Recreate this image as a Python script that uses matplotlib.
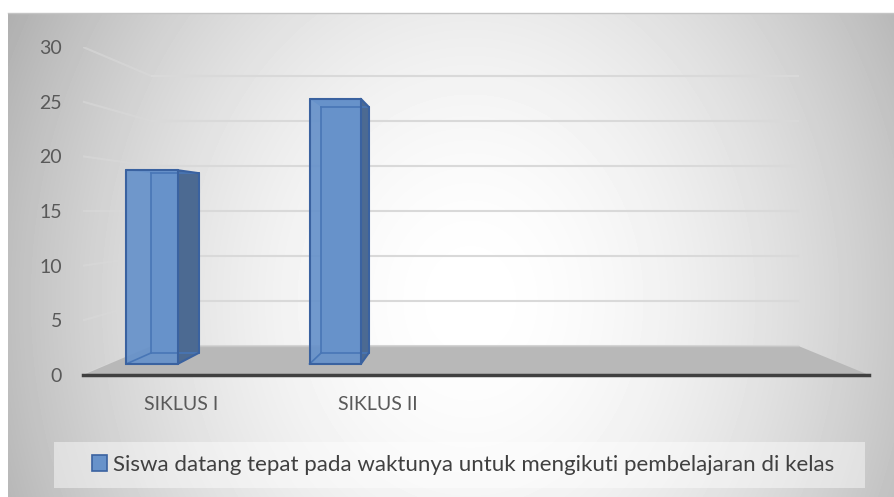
import numpy as np
import matplotlib
matplotlib.use("Agg")
import matplotlib.pyplot as plt
from matplotlib.patches import Polygon, Rectangle, Patch

# chart data
categories = ["SIKLUS I", "SIKLUS II", "", ""]
values = [19, 26, np.nan, np.nan]
series_name = "Siswa datang tepat pada waktunya untuk mengikuti pembelajaran di kelas"
y_ticks = [0, 5, 10, 15, 20, 25, 30]

plt.rcParams['font.family'] = ['Lato', 'DejaVu Sans']

W, H = 895, 497
fig = plt.figure(figsize=(W / 100, H / 100), dpi=100)
fig.patch.set_facecolor("white")

# gray-to-white gradient behind the chart area (pixel coords)
bg = fig.add_axes([0, 0, 1, 1], zorder=-10)
bg.set_xlim(0, W)
bg.set_ylim(H, 0)
bg.axis("off")
xx, yy = np.meshgrid(np.arange(8, W), np.arange(13, H))
d = np.sqrt(((xx - 470) / 470.0) ** 2 + ((yy - 300) / 560.0) ** 2)
shade = 1 - 0.26 * np.clip(d, 0, 1.2) ** 1.8
bg.imshow(shade, cmap="gray", vmin=0, vmax=1, extent=(8, W, H, 13),
          aspect="auto", interpolation="bilinear")
bg.plot([8, W], [13, 13], color="#c4c4c4", lw=1)

# legend box
bg.add_patch(Rectangle((54, 442), 811, 46, facecolor="white", alpha=0.45, edgecolor="none"))

# main axes = front plane of the 3d box
ax = fig.add_axes([83 / W, (H - 375) / H, 786 / W, 328 / H])
ax.patch.set_visible(False)
ax.set_xlim(-0.5, len(categories) - 0.5)
ax.set_ylim(0, 30)

# simple perspective: points shrink toward a vanishing point as depth grows
VX, VY = 1.47, 15.0
R_WALL = 0.823
R_BAR_FRONT = 0.933
R_BAR_BACK = 0.866
BAR_OFF = -0.266
BAR_W = 0.28

def proj(x, v, r):
    return (VX + (x - VX) * r, VY + (v - VY) * r)

x0, x1 = -0.5, len(categories) - 0.5

# gridlines on back wall and left wall
for t in y_ticks:
    a = proj(x0, t, R_WALL)
    b = proj(x1, t, R_WALL)
    ax.plot([a[0], b[0]], [a[1], b[1]], color="#d9d9d9", lw=1.5, zorder=1)
    c = proj(x0, t, 1.0)
    ax.plot([c[0], a[0]], [c[1], a[1]], color="#d9d9d9", lw=1.5, alpha=0.6, zorder=1)

# floor
floor = [proj(x0, 0, 1.0), proj(x1, 0, 1.0), proj(x1, 0, R_WALL), proj(x0, 0, R_WALL)]
ax.add_patch(Polygon(floor, closed=True, facecolor="#b8b8b8", edgecolor="none", zorder=2))
fb = proj(x0, 0, R_WALL), proj(x1, 0, R_WALL)
ax.plot([fb[0][0], fb[1][0]], [fb[0][1], fb[1][1]], color="#c6c6c6", lw=1, zorder=2)

front_col = "#6792ca"
side_col = "#4c6a92"
edge_col = "#3a62a0"
inner_col = "#4876b6"

for i, v in enumerate(values):
    if np.isnan(v):
        continue
    xl = i + BAR_OFF - BAR_W / 2
    xr = xl + BAR_W
    fbl, fbr = proj(xl, 0, R_BAR_FRONT), proj(xr, 0, R_BAR_FRONT)
    ftl, ftr = proj(xl, v, R_BAR_FRONT), proj(xr, v, R_BAR_FRONT)
    bbl, bbr = proj(xl, 0, R_BAR_BACK), proj(xr, 0, R_BAR_BACK)
    btl, btr = proj(xl, v, R_BAR_BACK), proj(xr, v, R_BAR_BACK)
    # back parts first
    ax.add_patch(Polygon([bbl, bbr, btr, btl], facecolor=front_col, edgecolor="none", zorder=3))
    ax.add_patch(Polygon([ftl, ftr, btr, btl], facecolor="#6f98ce", edgecolor="none", zorder=3))
    ax.add_patch(Polygon([fbr, bbr, btr, ftr], facecolor=side_col, edgecolor="none", zorder=4))
    ax.add_patch(Polygon([fbl, fbr, ftr, ftl], facecolor=front_col, edgecolor="none",
                         alpha=0.93, zorder=5))
    # hidden edges seen through the box
    for p, q in [(bbl, btl), (bbl, bbr), (fbl, bbl), (btl, btr)]:
        ax.plot([p[0], q[0]], [p[1], q[1]], color=inner_col, lw=1.2, zorder=6)
    # visible outline
    for p, q in [(fbl, fbr), (fbr, ftr), (ftr, ftl), (ftl, fbl),
                 (fbr, bbr), (bbr, btr), (btr, ftr)]:
        ax.plot([p[0], q[0]], [p[1], q[1]], color=edge_col, lw=1.5, zorder=7,
                solid_capstyle="round")

for s in ["top", "left", "right"]:
    ax.spines[s].set_visible(False)
ax.spines["bottom"].set_color("#404040")
ax.spines["bottom"].set_linewidth(2.5)
ax.spines["bottom"].set_zorder(8)

ax.set_yticks(y_ticks)
ax.set_xticks(range(len(categories)))
ax.set_xticklabels(categories)
ax.tick_params(axis="both", length=0, labelsize=14, labelcolor="#595959")
ax.tick_params(axis="y", pad=15)
ax.tick_params(axis="x", pad=15)

fig.legend(handles=[Patch(facecolor=front_col, edgecolor=edge_col, lw=1.2)],
           labels=[series_name], loc="center",
           bbox_to_anchor=(463 / W, 1 - 465 / H), frameon=False,
           fontsize=16, handlelength=0.7, handleheight=0.7, handletextpad=0.25,
           labelcolor="#404040")

fig.savefig("out.png", dpi=100)
